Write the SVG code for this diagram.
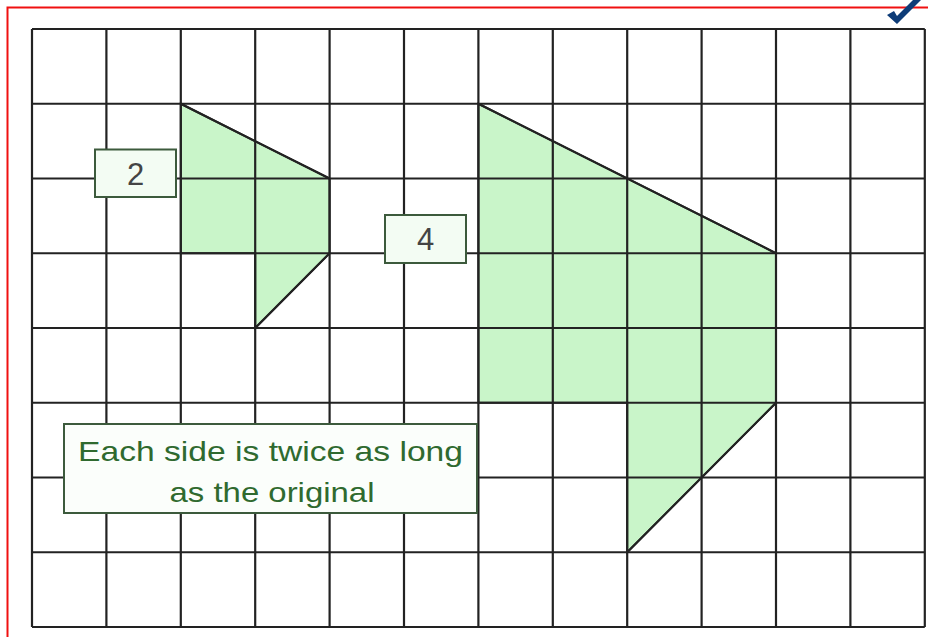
<svg xmlns="http://www.w3.org/2000/svg" width="928" height="637" viewBox="0 0 928 637">
<style>
.grid line{stroke:#222;stroke-width:2.2}
.shape{fill:#c9f5c9;stroke:#222;stroke-width:2;stroke-linejoin:miter}
.lbl rect{fill:#f3fcf3;stroke:#3c5a3c;stroke-width:2}
.lbl text{font-family:"Liberation Sans",Arial,sans-serif;fill:#444;font-size:31px;text-anchor:middle}
.note text{font-family:"Liberation Sans",Arial,sans-serif;fill:#2f6a2f;font-size:28px;text-anchor:middle}
</style>
<rect x="0" y="0" width="928" height="637" fill="#fff"/>
<path d="M7.5 637 V7.5 H928" fill="none" stroke="#f01010" stroke-width="2"/>
<g id="shape-small"><polygon class="shape" points="180.8,103.75 329.6,178.5 329.6,253.25 255.2,328 255.2,253.25 180.8,253.25"/></g>
<g id="shape-large"><polygon class="shape" points="478.4,103.75 776,253.25 776,402.75 627.2,552.25 627.2,402.75 478.4,402.75"/></g>
<g class="grid" id="grid">
<line x1="32" y1="29" x2="32" y2="627"/>
<line x1="106.4" y1="29" x2="106.4" y2="627"/>
<line x1="180.8" y1="29" x2="180.8" y2="627"/>
<line x1="255.2" y1="29" x2="255.2" y2="627"/>
<line x1="329.6" y1="29" x2="329.6" y2="627"/>
<line x1="404" y1="29" x2="404" y2="627"/>
<line x1="478.4" y1="29" x2="478.4" y2="627"/>
<line x1="552.8" y1="29" x2="552.8" y2="627"/>
<line x1="627.2" y1="29" x2="627.2" y2="627"/>
<line x1="701.6" y1="29" x2="701.6" y2="627"/>
<line x1="776" y1="29" x2="776" y2="627"/>
<line x1="850.4" y1="29" x2="850.4" y2="627"/>
<line x1="924.8" y1="29" x2="924.8" y2="627"/>
<line x1="32" y1="29" x2="924.8" y2="29"/>
<line x1="32" y1="103.75" x2="924.8" y2="103.75"/>
<line x1="32" y1="178.5" x2="924.8" y2="178.5"/>
<line x1="32" y1="253.25" x2="924.8" y2="253.25"/>
<line x1="32" y1="328" x2="924.8" y2="328"/>
<line x1="32" y1="402.75" x2="924.8" y2="402.75"/>
<line x1="32" y1="477.5" x2="924.8" y2="477.5"/>
<line x1="32" y1="552.25" x2="924.8" y2="552.25"/>
<line x1="32" y1="627" x2="924.8" y2="627"/>
</g>
<g id="outlines" fill="none" stroke="#222" stroke-width="2">
<line x1="180.8" y1="103.75" x2="329.6" y2="178.5"/>
<line x1="329.6" y1="253.25" x2="255.2" y2="328"/>
<line x1="478.4" y1="103.75" x2="776" y2="253.25"/>
<line x1="776" y1="402.75" x2="627.2" y2="552.25"/>
</g>
<g id="label-2" class="lbl"><rect x="95" y="149.5" width="81" height="47.5"/><text x="135.5" y="185">2</text></g>
<g id="label-4" class="lbl"><rect x="385" y="215" width="81" height="48"/><text x="425.5" y="250">4</text></g>
<g id="note" class="note"><rect x="64" y="424" width="413" height="89" fill="#fbfefb" stroke="#3c5a3c" stroke-width="2"/>
<text x="270.5" y="461" textLength="385" lengthAdjust="spacingAndGlyphs">Each side is twice as long</text>
<text x="272" y="502" textLength="205" lengthAdjust="spacingAndGlyphs">as the original</text></g>
<g id="check"><path d="M887 15 L894 11 L897 16 L913 0 L921 0 L897 24 Z" fill="#0d3c78"/></g>
</svg>
